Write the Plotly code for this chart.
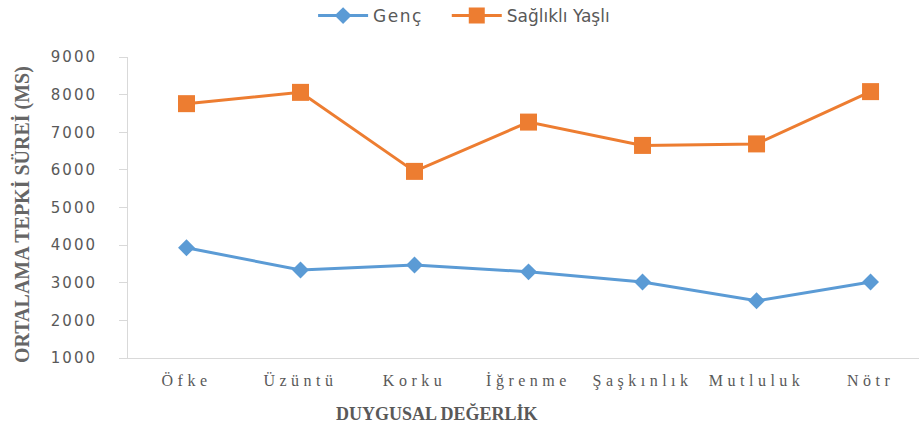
import plotly.graph_objects as go

categories = ["Öfke", "Üzüntü", "Korku", "İğrenme", "Şaşkınlık", "Mutluluk", "Nötr"]
genc = [3930, 3340, 3470, 3290, 3020, 2520, 3020]
yasli = [7760, 8060, 5960, 7270, 6650, 6690, 8080]
y_ticks = [1000, 2000, 3000, 4000, 5000, 6000, 7000, 8000, 9000]

BLUE = "#5B9BD5"
ORANGE = "#ED7D31"
GRAY = "#595959"
AXIS = "#D9D9D9"

fig = go.Figure()
fig.add_trace(go.Scatter(
    x=categories, y=genc, name="Genç", mode="lines+markers",
    line=dict(color=BLUE, width=3),
    marker=dict(symbol="diamond", size=13, color=BLUE),
    legend="legend",
))
fig.add_trace(go.Scatter(
    x=categories, y=yasli, name="Sağlıklı Yaşlı", mode="lines+markers",
    line=dict(color=ORANGE, width=3),
    marker=dict(symbol="square", size=17, color=ORANGE),
    legend="legend2",
))

legend_common = dict(
    orientation="h", xanchor="left", y=1.136, yanchor="middle",
    font=dict(family="DejaVu Sans", size=17, color=GRAY),
    itemwidth=50, bgcolor="rgba(0,0,0,0)",
)

fig.update_layout(
    width=919, height=433,
    margin=dict(l=128, r=0, t=57, b=75, autoexpand=False),
    paper_bgcolor="white", plot_bgcolor="white",
    showlegend=True,
    legend=dict(x=0.234, **legend_common),
    legend2=dict(x=0.403, **legend_common),
    xaxis=dict(
        type="category", range=[-0.513, 6.425],
        showline=True, linecolor=AXIS, linewidth=1,
        showgrid=False, zeroline=False, ticks="",
        ticklabelstandoff=8,
        tickfont=dict(family="Liberation Serif", size=16, color=GRAY),
        fixedrange=True, automargin=False,
    ),
    yaxis=dict(
        range=[1000, 9000], tickvals=y_ticks,
        showline=True, linecolor=AXIS, linewidth=1,
        showgrid=False, zeroline=False,
        ticks="outside", ticklen=8, tickcolor=AXIS,
        ticklabelstandoff=19,
        tickfont=dict(family="DejaVu Sans", size=15, color=GRAY),
        fixedrange=True, automargin=False,
    ),
    annotations=[
        dict(text="ORTALAMA TEPKİ SÜREİ (MS)", xref="paper", yref="paper",
             x=-0.134, y=0.475, xanchor="center", yanchor="middle",
             textangle=-90, showarrow=False,
             font=dict(family="Liberation Serif", size=20, color="#666666", weight="bold")),
        dict(text="DUYGUSAL DEĞERLİK", xref="paper", yref="paper",
             x=0.391, y=-0.183, xanchor="center", yanchor="middle",
             showarrow=False,
             font=dict(family="Liberation Serif", size=18, color=GRAY, weight="bold")),
    ],
)

post_script = """
document.body.style.margin = '0';
document.body.style.overflow = 'hidden';
var gd = document.getElementById('{plot_id}');
function spacing(){
  gd.querySelectorAll('.xtick text').forEach(function(t){ t.style.letterSpacing='4.5px'; });
  gd.querySelectorAll('.ytick text').forEach(function(t){ t.style.letterSpacing='2px'; });
  gd.querySelectorAll('.legendtext').forEach(function(t){ t.style.letterSpacing='1.5px'; });
}
spacing();
gd.on('plotly_afterplot', spacing);
"""

fig.write_html("out.html", post_script=post_script, config={"displayModeBar": False})
